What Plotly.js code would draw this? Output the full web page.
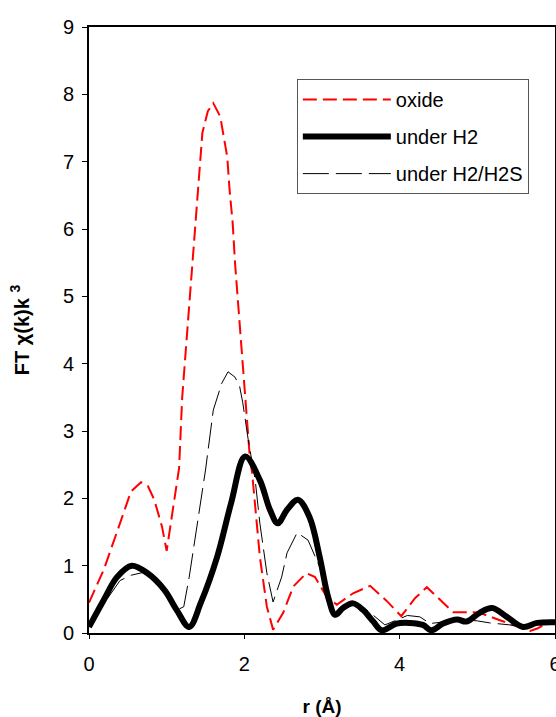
<!DOCTYPE html>
<html>
<head>
<meta charset="utf-8">
<script src="https://cdn.plot.ly/plotly-3.0.1.min.js"></script>
<style>html,body{margin:0;padding:0;background:#fff;}#chart{width:556px;height:717px;}</style>
</head>
<body>
<div id="chart"></div>
<script>
// oxide
const oxideR = [0, 0.19, 0.36, 0.54, 0.67, 0.76, 0.84, 0.94, 1.0, 1.09, 1.16, 1.2, 1.28, 1.34, 1.39, 1.46, 1.53, 1.6, 1.69, 1.78, 1.81, 1.85, 1.88, 1.94, 1.98, 2.03, 2.07, 2.1, 2.2, 2.29, 2.37, 2.5, 2.63, 2.8, 2.91, 3.06, 3.19, 3.4, 3.62, 3.83, 4.02, 4.2, 4.35, 4.56, 4.69, 4.9, 5.03, 5.29, 5.5, 5.68, 5.78, 5.85, 6.0];
const oxideY = [0.45, 0.94, 1.5, 2.1, 2.24, 2.18, 1.98, 1.58, 1.22, 1.93, 2.45, 3.5, 4.7, 5.59, 6.39, 7.43, 7.75, 7.87, 7.67, 7.07, 6.58, 6.09, 5.5, 4.6, 3.86, 3.12, 2.62, 2.38, 1.13, 0.39, 0.05, 0.30, 0.69, 0.89, 0.83, 0.54, 0.42, 0.59, 0.70, 0.48, 0.25, 0.52, 0.68, 0.45, 0.31, 0.31, 0.30, 0.19, 0.10, 0.03, 0.07, 0.12, 0.18];
// under H2
const h2R = [0, 0.19, 0.36, 0.55, 0.75, 0.97, 1.13, 1.29, 1.44, 1.65, 1.83, 2.01, 2.2, 2.33, 2.43, 2.55, 2.69, 2.84, 2.97, 3.08, 3.17, 3.27, 3.4, 3.53, 3.66, 3.77, 3.96, 4.13, 4.3, 4.41, 4.56, 4.74, 4.86, 5.03, 5.19, 5.38, 5.59, 5.77, 6.0];
const h2Y = [0.09, 0.49, 0.83, 1.0, 0.89, 0.64, 0.34, 0.09, 0.45, 1.13, 1.93, 2.62, 2.27, 1.83, 1.63, 1.83, 1.98, 1.72, 1.13, 0.53, 0.27, 0.37, 0.44, 0.34, 0.17, 0.04, 0.14, 0.15, 0.12, 0.04, 0.14, 0.20, 0.17, 0.30, 0.37, 0.24, 0.09, 0.15, 0.16];
// under H2/H2S
const h2sR = [0, 0.2, 0.4, 0.55, 0.7, 0.85, 1.0, 1.15, 1.22, 1.29, 1.39, 1.5, 1.6, 1.71, 1.79, 1.88, 1.94, 1.98, 2.05, 2.14, 2.2, 2.29, 2.37, 2.48, 2.55, 2.68, 2.82, 3.0, 3.15, 3.25, 3.4, 3.58, 3.81, 3.96, 4.1, 4.26, 4.39, 4.6, 4.8, 5.0, 5.16, 5.42, 5.6, 5.8, 6.0];
const h2sY = [0.12, 0.45, 0.78, 0.86, 0.9, 0.8, 0.6, 0.35, 0.39, 0.83, 1.58, 2.42, 3.31, 3.71, 3.88, 3.8, 3.66, 3.42, 2.87, 2.27, 1.63, 0.89, 0.46, 0.83, 1.19, 1.49, 1.38, 0.9, 0.28, 0.33, 0.42, 0.34, 0.12, 0.19, 0.26, 0.24, 0.14, 0.17, 0.2, 0.18, 0.15, 0.12, 0.08, 0.13, 0.15];

const xTicks = [0, 2, 4, 6];
const yTicks = [0, 1, 2, 3, 4, 5, 6, 7, 8, 9];

const font = "Liberation Sans, Arial, sans-serif";

const traces = [
  {x: oxideR, y: oxideY, name: "oxide", mode: "lines", legendgroup: "a",
   line: {color: "#ff0000", width: 2, dash: "14px,6px"}},
  {x: h2R, y: h2Y, name: "under H2", mode: "lines", legendgroup: "b",
   line: {color: "#000000", width: 6, shape: "spline"}},
  {x: h2sR, y: h2sY, name: "under H2/H2S", mode: "lines", legendgroup: "c",
   line: {color: "#000000", width: 1, dash: "26px,7px"}}
];

const layout = {
  width: 556, height: 717,
  margin: {l: 89, r: 1, t: 27, b: 84},
  paper_bgcolor: "#fff", plot_bgcolor: "#fff",
  font: {family: font, size: 20, color: "#000"},
  showlegend: true,
  legend: {x: 0.446, y: 0.914, xanchor: "left", yanchor: "top",
           bgcolor: "#fff", bordercolor: "#555", borderwidth: 1,
           font: {family: font, size: 20, color: "#000"},
           itemwidth: 88, tracegroupgap: 8, traceorder: "grouped"},
  xaxis: {range: [0, 6], tickvals: xTicks, ticktext: xTicks.map(String),
          showgrid: false, zeroline: false, showline: true, linecolor: "#000", linewidth: 2,
          mirror: true, ticks: "outside", ticklen: 4, tickcolor: "#000", tickwidth: 1,
          ticklabeloverflow: "allow", ticklabelstandoff: 8,
          tickfont: {family: font, size: 20},
          title: {text: "<b>r (Å)</b>", font: {family: font, size: 19}, standoff: 28}},
  yaxis: {range: [0, 9], tickvals: yTicks, ticktext: yTicks.map(String),
          showgrid: false, zeroline: false, showline: true, linecolor: "#000", linewidth: 2,
          mirror: true, ticks: "outside", ticklen: 5, tickcolor: "#000", tickwidth: 1,
          ticklabelstandoff: 4,
          tickfont: {family: font, size: 20},
          title: {text: "<b>FT χ(k)k <sup>3</sup></b>", font: {family: font, size: 20}, standoff: 28}}
};

Plotly.newPlot("chart", traces, layout, {displayModeBar: false, staticPlot: true});
</script>
</body>
</html>
